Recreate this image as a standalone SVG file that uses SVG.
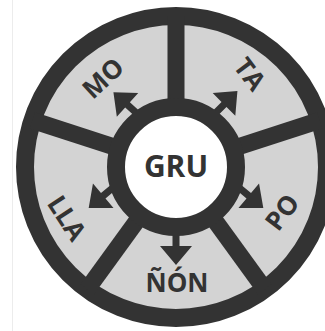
<svg xmlns="http://www.w3.org/2000/svg" width="325" height="331" viewBox="0 0 325 331">
<style>
.lbl{font-family:"Open Sans","DejaVu Sans",sans-serif;font-weight:bold;font-size:26px;fill:#333;text-anchor:middle}
.hub{font-family:"Open Sans","DejaVu Sans",sans-serif;font-weight:bold;font-size:30px;fill:#333;text-anchor:middle}
.arrow{fill:#333}
</style>
<defs>
<path id="arr" d="M-4,-3.5 L13,-3.5 L13,-16 L32,0 L13,16 L13,3.5 L-4,3.5 Z"/>
</defs>
<rect width="325" height="331" fill="#fff"/>
<line x1="12.5" y1="0" x2="12.5" y2="331" stroke="#ececec" stroke-width="1"/>
<g id="wheel">
<circle cx="176" cy="167" r="151" fill="#d3d3d3" stroke="#333" stroke-width="18"/>
<g transform="translate(176,167)" stroke="#333" stroke-width="17">
<line x1="0" y1="0" x2="151" y2="0" transform="rotate(-90)"/>
<line x1="0" y1="0" x2="151" y2="0" transform="rotate(-18)"/>
<line x1="0" y1="0" x2="151" y2="0" transform="rotate(54)"/>
<line x1="0" y1="0" x2="151" y2="0" transform="rotate(126)"/>
<line x1="0" y1="0" x2="151" y2="0" transform="rotate(198)"/>
</g>
</g>
<g id="connectors" class="arrow">
<use href="#arr" transform="translate(214.8,113.6) rotate(-45)"/>
<use href="#arr" transform="translate(137.2,113.6) rotate(-138)"/>
<use href="#arr" transform="translate(238.8,187.4) rotate(40)"/>
<use href="#arr" transform="translate(176,233) rotate(90)"/>
<use href="#arr" transform="translate(113.2,187.4) rotate(140)"/>
</g>
<g id="GRU">
<circle cx="176" cy="167" r="60" fill="#fff" stroke="#333" stroke-width="18"/>
<text class="hub" x="176" y="166" dy="0.36em">GRU</text>
</g>
<g id="MO"><text class="lbl" transform="translate(103,78) rotate(-43)" dy="0.36em">MO</text></g>
<g id="TA"><text class="lbl" transform="translate(250,74) rotate(53)" dy="0.36em">TA</text></g>
<g id="PO"><text class="lbl" transform="translate(282,212) rotate(-53)" dy="0.36em">PO</text></g>
<g id="LLA"><text class="lbl" transform="translate(67,218) rotate(57)" dy="0.36em">LLA</text></g>
<g id="NON"><text class="lbl" transform="translate(177,283)" dy="0.36em">ÑÓN</text></g>
</svg>
